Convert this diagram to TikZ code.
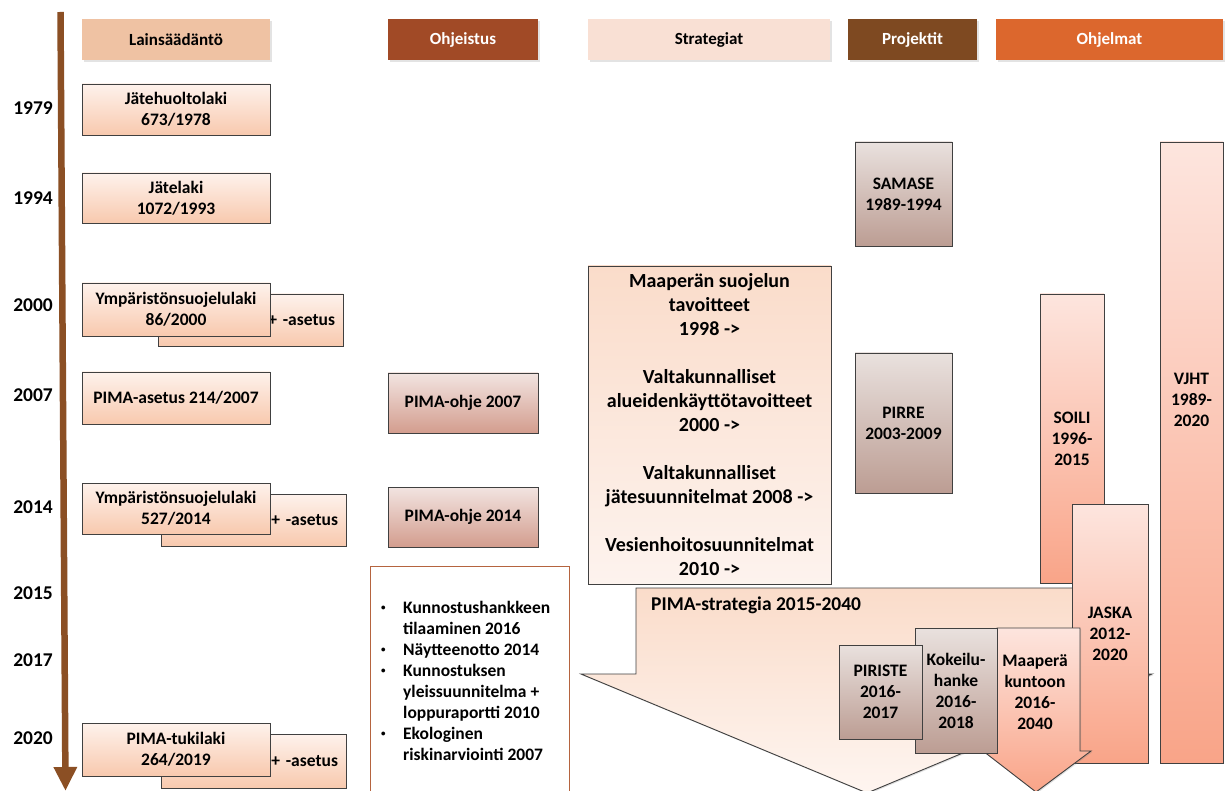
\documentclass[tikz,border=0pt]{standalone}
\usepackage{fontspec}
\setmainfont{Carlito}
\usetikzlibrary{arrows.meta,shadows}

\definecolor{edgecol}{HTML}{404040}
\definecolor{tlcol}{HTML}{8B4F24}
\definecolor{hLawC}{HTML}{EFC2A3}
\definecolor{hOhjC}{HTML}{A14A26}
\definecolor{hStrC}{HTML}{F9E0D4}
\definecolor{hProC}{HTML}{7E4921}
\definecolor{hPgmC}{HTML}{DC672D}
\definecolor{lawT}{HTML}{FEF2EC}
\definecolor{lawB}{HTML}{F8C9AE}
\definecolor{ohT}{HTML}{F2E4E1}
\definecolor{ohB}{HTML}{D39D8E}
\definecolor{prT}{HTML}{E9E1DE}
\definecolor{prB}{HTML}{BC9D93}
\definecolor{pgT}{HTML}{FDE5DE}
\definecolor{pgB}{HTML}{F9A488}
\definecolor{stT}{HTML}{FADCCA}
\definecolor{stB}{HTML}{FDF3EE}
\definecolor{arT}{HTML}{FADCCA}
\definecolor{arB}{HTML}{FEF5F0}
\definecolor{rustcol}{HTML}{B5643F}

% small list bullet
\newcommand{\listbul}{\makebox[24pt][l]{\hspace*{2pt}\raisebox{3pt}{\fontsize{9}{9}\selectfont •}}}

\begin{document}
\begin{tikzpicture}[x=1pt,y=-1pt,
  txt/.style={font=\fontsize{17.5}{21}\selectfont\bfseries, align=center, text=black},
  yr/.style={font=\fontsize{19.5}{23}\selectfont\bfseries, anchor=east, inner sep=0pt},
  head/.style={txt, font=\fontsize{17}{20}\selectfont\bfseries, minimum height=41pt, inner sep=0pt,
    drop shadow={shadow xshift=1.5pt, shadow yshift=-2pt, opacity=.22}},
  box/.style={txt, draw=edgecol, line width=0.9pt, inner sep=2pt,
    drop shadow={shadow xshift=1.2pt, shadow yshift=-1.2pt, opacity=.3}},
  lawbox/.style={box, top color=lawT, bottom color=lawB},
  ohjbox/.style={box, top color=ohT, bottom color=ohB},
  projbox/.style={box, top color=prT, bottom color=prB},
  progbox/.style={box, top color=pgT, bottom color=pgB},
  shape line/.style={draw=edgecol, line width=0.9pt}
]
\clip (0,0) rectangle (1226,791);
\fill[white] (0,0) rectangle (1226,791);

% timeline
\coordinate (tltop) at (60.5,12);
\coordinate (tlend) at (65.5,791);
\draw[tlcol, line width=6.5pt, -{Triangle[width=22pt,length=24pt]}] (tltop) -- (tlend);

\node[yr] (y1979) at (53,108) {1979};
\node[yr] (y1994) at (53,198) {1994};
\node[yr] (y2000) at (53,305) {2000};
\node[yr] (y2007) at (53,395) {2007};
\node[yr] (y2014) at (53,507) {2014};
\node[yr] (y2015) at (53,593) {2015};
\node[yr] (y2017) at (53,660) {2017};
\node[yr] (y2020) at (53,738) {2020};

% column headers
\node[head, fill=hLawC, minimum width=188pt] (hLaw) at (176,39.5) {Lainsäädäntö};
\node[head, fill=hOhjC, minimum width=150pt, text=white] (hOhj) at (463,39.5) {Ohjeistus};
\node[head, fill=hStrC, minimum width=242pt] (hStr) at (709,39.5) {Strategiat};
\node[head, fill=hProC, minimum width=129pt, text=white] (hPro) at (912.5,39.5) {Projektit};
\node[head, fill=hPgmC, minimum width=227pt, text=white] (hPgm) at (1109.5,39.5) {Ohjelmat};

% legislation
\node[lawbox, minimum width=188pt, minimum height=51pt] (jhl) at (176,109.5) {Jätehuoltolaki\\673/1978};
\node[lawbox, minimum width=188pt, minimum height=50pt] (jl) at (176,198) {Jätelaki\\1072/1993};
\node[lawbox, minimum width=185pt, minimum height=52pt, text width=169pt, align=right] (ase00) at (250.5,320) {+ -asetus};
\node[lawbox, minimum width=188pt, minimum height=53pt] (ysl00) at (176,309.5) {Ympäristönsuojelulaki\\86/2000};
\node[lawbox, minimum width=188pt, minimum height=52pt] (pimaase) at (176,398) {PIMA-asetus 214/2007};
\node[lawbox, minimum width=185pt, minimum height=52pt, text width=169pt, align=right] (ase14) at (253.5,520) {+ -asetus};
\node[lawbox, minimum width=188pt, minimum height=51pt] (ysl14) at (176,508.5) {Ympäristönsuojelulaki\\527/2014};
\node[lawbox, minimum width=185pt, minimum height=54pt, text width=169pt, align=right] (ase19) at (253.5,761) {+ -asetus};
\node[lawbox, minimum width=188pt, minimum height=53pt] (tuki) at (176,749.5) {PIMA-tukilaki\\264/2019};

% guidance
\node[ohjbox, minimum width=150pt, minimum height=60pt] (ohje07) at (463,403) {PIMA-ohje 2007};
\node[ohjbox, minimum width=150pt, minimum height=60pt] (ohje14) at (463,517) {PIMA-ohje 2014};
\node[draw=rustcol, line width=1.4pt, fill=white, minimum width=199pt, minimum height=240pt,
      anchor=north west, inner sep=0pt] (ohjlist) at (370,566) {};
\node[font=\fontsize{17.5}{21}\selectfont\bfseries, align=left, anchor=north west, inner sep=0pt]
  (ohjitems) at (379,598.3) {\strut\listbul Kunnostushankkeen\\
  \hspace*{24pt}tilaaminen 2016\\
  \listbul Näytteenotto 2014\\
  \listbul Kunnostuksen\\
  \hspace*{24pt}yleissuunnitelma +\\
  \hspace*{24pt}loppuraportti 2010\\
  \listbul Ekologinen\\
  \hspace*{24pt}riskinarviointi 2007};

% strategies
\node[box, top color=stT, bottom color=stB, font=\fontsize{20}{24}\selectfont\bfseries,
      minimum width=243pt, minimum height=318pt] (strat) at (709.5,425)
  {Maaperän suojelun\\tavoitteet\\1998 ->\\[24pt]Valtakunnalliset\\alueidenkäyttötavoitteet\\2000 ->\\[24pt]Valtakunnalliset\\jätesuunnitelmat 2008 ->\\[24pt]Vesienhoitosuunnitelmat\\2010 ->};

% projects
\node[projbox, minimum width=97pt, minimum height=104pt] (samase) at (903.5,194) {SAMASE\\1989-1994};
\node[projbox, minimum width=97pt, minimum height=140pt] (pirre) at (903.5,423) {PIRRE\\2003-2009};

% programmes
\node[progbox, minimum width=63pt, minimum height=621pt] (vjht) at (1191.5,452.5) {};
\node[txt] (vjhtlbl) at (1191.5,400) {VJHT\\1989-\\2020};
\node[progbox, minimum width=64pt, minimum height=289pt] (soili) at (1072,438.5) {SOILI\\1996-\\2015};

% PIMA strategy arrow
\path[shape line, top color=arT, bottom color=arB,
      drop shadow={shadow xshift=1.2pt, shadow yshift=-1.2pt, opacity=.25}]
  (636,588) -- (1097,588) -- (1097,674) -- (1152,674) -- (867,793) -- (581,674) -- (636,674) -- cycle;
\node[font=\fontsize{19.5}{23}\selectfont\bfseries, anchor=west, inner sep=0pt] (pimastrat) at (651,605) {PIMA-strategia 2015-2040};

\node[progbox, minimum width=76pt, minimum height=259pt] (jaska) at (1110,633.5) {JASKA\\2012-\\2020};

% Maaperä kuntoon arrow
\path[shape line, top color=pgT, bottom color=pgB,
      drop shadow={shadow xshift=1.2pt, shadow yshift=-1.2pt, opacity=.25}]
  (997,628) -- (1080,628) -- (1080,751) -- (1091,751) -- (1036,792) -- (983,751) -- (997,751) -- cycle;
\node[txt] (maaperalbl) at (1035,692.5) {Maaperä\\kuntoon\\2016-\\2040};

\node[projbox, minimum width=82pt, minimum height=125pt] (kokeilu) at (956,690.5) {Kokeilu-\\hanke\\2016-\\2018};
\node[projbox, minimum width=83pt, minimum height=94pt] (piriste) at (880.5,692) {PIRISTE\\2016-\\2017};
\end{tikzpicture}
\end{document}
